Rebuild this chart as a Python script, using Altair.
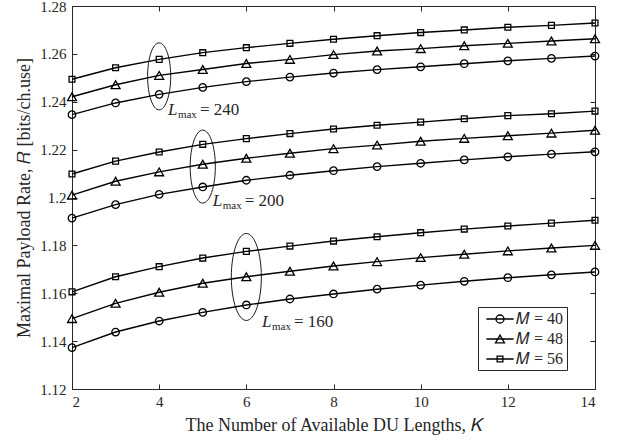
import altair as alt
import pandas as pd

# Number of available DU lengths
K = list(range(2, 15))

# Maximal payload rate R [bits/ch.use] for each (L_max, M)
R_L240_M40 = [1.2346, 1.2395, 1.2431, 1.2460, 1.2484, 1.2503, 1.2520, 1.2534, 1.2546, 1.2559, 1.2571, 1.2581, 1.2591]
R_L240_M48 = [1.2421, 1.2471, 1.2510, 1.2535, 1.2560, 1.2577, 1.2597, 1.2612, 1.2622, 1.2634, 1.2644, 1.2654, 1.2663]
R_L240_M56 = [1.2494, 1.2542, 1.2577, 1.2605, 1.2626, 1.2644, 1.2661, 1.2676, 1.2689, 1.2700, 1.2711, 1.2719, 1.2729]
R_L200_M40 = [1.1914, 1.1970, 1.2013, 1.2044, 1.2072, 1.2093, 1.2112, 1.2129, 1.2143, 1.2157, 1.2170, 1.2181, 1.2191]
R_L200_M48 = [1.2010, 1.2068, 1.2107, 1.2139, 1.2164, 1.2185, 1.2204, 1.2219, 1.2235, 1.2247, 1.2258, 1.2269, 1.2281]
R_L200_M56 = [1.2098, 1.2152, 1.2190, 1.2222, 1.2246, 1.2267, 1.2286, 1.2302, 1.2315, 1.2329, 1.2342, 1.2350, 1.2361]
R_L160_M40 = [1.1373, 1.1438, 1.1484, 1.1520, 1.1551, 1.1576, 1.1597, 1.1617, 1.1634, 1.1650, 1.1665, 1.1677, 1.1689]
R_L160_M48 = [1.1494, 1.1558, 1.1604, 1.1642, 1.1669, 1.1692, 1.1714, 1.1732, 1.1749, 1.1763, 1.1777, 1.1789, 1.1800]
R_L160_M56 = [1.1606, 1.1669, 1.1711, 1.1747, 1.1775, 1.1797, 1.1818, 1.1836, 1.1853, 1.1868, 1.1881, 1.1893, 1.1905]

M_values = [40, 48, 56]
legend_entries = ["𝑀 = 40", "𝑀 = 48", "𝑀 = 56"]

# Ellipses grouping the three curves of each L_max
ellipse_K = [4, 5, 6]
ellipse_R = [1.2506, 1.2129, 1.1668]

# "L_max = ..." annotations
label_K = [4.20, 5.23, 6.36]
label_R = [1.2345, 1.1965, 1.1459]
label_text = ["= 240", "= 200", "= 160"]

x_ticks = [2, 4, 6, 8, 10, 12, 14]
y_ticks = [1.12, 1.14, 1.16, 1.18, 1.20, 1.22, 1.24, 1.26, 1.28]

series = {
    (240, 40): R_L240_M40, (240, 48): R_L240_M48, (240, 56): R_L240_M56,
    (200, 40): R_L200_M40, (200, 48): R_L200_M48, (200, 56): R_L200_M56,
    (160, 40): R_L160_M40, (160, 48): R_L160_M48, (160, 56): R_L160_M56,
}
rows = []
for (L, M), vals in series.items():
    for k, r in zip(K, vals):
        rows.append({"K": k, "R": r, "L": L, "M": M, "series": f"{L}-{M}",
                     "entry": legend_entries[M_values.index(M)]})
df = pd.DataFrame(rows)

ell_df = pd.DataFrame({"K": ellipse_K, "R": ellipse_R})
lab_df = pd.DataFrame({"K": label_K, "R": label_R, "txt": label_text})

FONT = "Liberation Serif"
AX = "#262626"

xs = alt.Scale(domain=[2, 14], nice=False, zero=False)
ys = alt.Scale(domain=[1.12, 1.28], nice=False, zero=False)


def tick_axis(orient, values):
    # ticks only, pulled inside the frame
    return alt.Axis(orient=orient, values=values, labels=False, domain=False,
                    grid=False, ticks=True, tickSize=5, offset=-5,
                    tickColor=AX, tickWidth=1, title=None)


x_main = alt.Axis(orient="bottom", values=x_ticks, format="d", ticks=False,
                  domain=False, grid=False, labelPadding=5,
                  labelFont=FONT, labelFontSize=15, labelColor=AX,
                  title="The Number of Available DU Lengths, 𝐾",
                  titleFont=FONT, titleFontSize=18, titleFontWeight="normal",
                  titleColor=AX, titlePadding=7)
y_main = alt.Axis(orient="left", values=y_ticks, format=".2~f", ticks=False,
                  domain=False, grid=False, labelPadding=6,
                  labelFont=FONT, labelFontSize=15, labelColor=AX,
                  title="Maximal Payload Rate, 𝑅 [bits/ch.use]",
                  titleFont=FONT, titleFontSize=18, titleFontWeight="normal",
                  titleColor=AX, titlePadding=6)

base = alt.Chart(df)

lines = base.mark_line(color="black", strokeWidth=1.4).encode(
    x=alt.X("K:Q", scale=xs, axis=x_main),
    y=alt.Y("R:Q", scale=ys, axis=y_main),
    detail="series:N",
)

# one marker layer per M
marker_shapes = ["circle", "triangle-up", "square"]
marker_sizes = [56, 80, 34]
points = []
for i, (m, shp, sz) in enumerate(zip(M_values, marker_shapes, marker_sizes)):
    axx = tick_axis("top", x_ticks) if i == 0 else None
    axy = tick_axis("right", y_ticks) if i == 0 else None
    points.append(
        base.transform_filter(alt.datum.M == m)
        .mark_point(shape=shp, size=sz, filled=False, color="black", strokeWidth=1.3, opacity=1)
        .encode(x=alt.X("K:Q", scale=xs, axis=axx), y=alt.Y("R:Q", scale=ys, axis=axy))
    )

ELLIPSE = "M 0 -1 A 0.345 1 0 1 1 0 1 A 0.345 1 0 1 1 0 -1 Z"
ell_sizes = [67 ** 2, 73 ** 2, 87 ** 2]
ellipses = []
for i, s in enumerate(ell_sizes):
    axx = tick_axis("bottom", x_ticks) if i == 0 else None
    axy = tick_axis("left", y_ticks) if i == 0 else None
    ellipses.append(
        alt.Chart(ell_df.iloc[[i]]).mark_point(shape=ELLIPSE, size=s, filled=False,
                                               color="black", strokeWidth=0.9, opacity=1)
        .encode(x=alt.X("K:Q", scale=xs, axis=axx), y=alt.Y("R:Q", scale=ys, axis=axy))
    )

lab_base = alt.Chart(lab_df).encode(
    x=alt.X("K:Q", scale=xs, axis=None), y=alt.Y("R:Q", scale=ys, axis=None))
lab_L = lab_base.mark_text(text="L", font=FONT, fontStyle="italic", fontSize=17,
                           align="left", baseline="alphabetic", color=AX)
lab_max = lab_base.mark_text(text="max", font=FONT, fontSize=11, dx=10, dy=3,
                             align="left", baseline="alphabetic", color=AX)
lab_val = lab_base.mark_text(font=FONT, fontSize=17, dx=32, align="left",
                             baseline="alphabetic", color=AX).encode(text="txt:N")

# legend symbols: line with marker, line running past the nominal symbol box
LEG_PATHS = [
    "M -1.7 0 L 1.7 0 M 0.5 0 A 0.5 0.5 0 1 1 -0.5 0 A 0.5 0.5 0 1 1 0.5 0 Z",
    "M -1.7 0 L 1.7 0 M 0 -0.48 L 0.56 0.48 L -0.56 0.48 Z",
    "M -1.7 0 L 1.7 0 M -0.36 -0.36 L 0.36 -0.36 L 0.36 0.36 L -0.36 0.36 Z",
]
legend_layer = base.mark_point(filled=False, color="black", strokeWidth=1.3,
                               size=256, opacity=0).encode(
    x=alt.X("K:Q", scale=xs, axis=None),
    y=alt.Y("R:Q", scale=ys, axis=None),
    shape=alt.Shape("entry:N", scale=alt.Scale(domain=legend_entries, range=LEG_PATHS),
                    legend=alt.Legend(orient="none", legendX=406, legendY=301, title=None,
                                      strokeColor=AX, fillColor="white", padding=3,
                                      labelFont=FONT, labelFontSize=16, labelColor=AX,
                                      symbolStrokeColor="black", symbolStrokeWidth=1.3,
                                      symbolFillColor="transparent", symbolOpacity=1,
                                      symbolSize=256, symbolOffset=10, labelOffset=7,
                                      rowPadding=3)),
)

chart = alt.layer(lines, *points, *ellipses, lab_L, lab_max, lab_val, legend_layer).resolve_axis(
    x="independent", y="independent"
).resolve_scale(shape="independent").properties(
    width=523, height=383, autosize=alt.AutoSizeParams(type="none"),
    padding={"left": 72, "top": 6, "right": 24, "bottom": 54},
    background="white",
).configure_view(stroke=AX, strokeWidth=1)

chart.save("out.html", embed_options={"renderer": "svg", "actions": False})
